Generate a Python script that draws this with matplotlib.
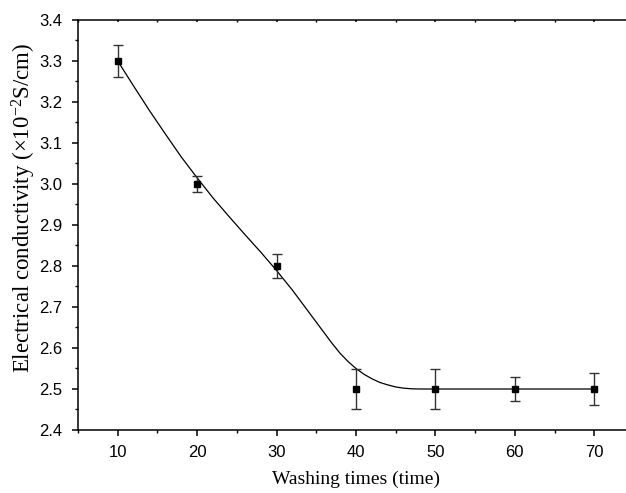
import matplotlib.pyplot as plt
from matplotlib.ticker import MultipleLocator

plt.rcParams['mathtext.fontset'] = 'custom'
plt.rcParams['mathtext.rm'] = 'Liberation Serif'
plt.rcParams['mathtext.it'] = 'Liberation Serif:italic'

# measured points
wash_times = [10, 20, 30, 40, 50, 60, 70]
conductivity = [3.30, 3.00, 2.80, 2.50, 2.50, 2.50, 2.50]
errors = [0.04, 0.02, 0.03, 0.05, 0.05, 0.03, 0.04]

# smoothed fit curve
curve_x = [10, 12, 14, 16, 18, 20, 22, 24, 26, 28, 30, 32, 34, 36, 37, 38, 39, 40,
           41, 42, 43, 44, 45, 46, 47, 48, 50, 60, 70]
curve_y = [3.300, 3.239, 3.179, 3.122, 3.066, 3.015, 2.966, 2.921, 2.877, 2.834, 2.789,
           2.741, 2.689, 2.637, 2.611, 2.587, 2.567, 2.550, 2.536, 2.525, 2.516, 2.510,
           2.505, 2.502, 2.5005, 2.500, 2.500, 2.500, 2.500]

fig = plt.figure(figsize=(6.26, 4.93), dpi=100)
ax = fig.add_axes([78 / 626, 63 / 493, 556 / 626, 410 / 493])

ax.plot(curve_x, curve_y, color='black', lw=0.9)
ax.errorbar(wash_times, conductivity, yerr=errors, fmt='s', color='black',
            ecolor='#333333', elinewidth=1.0, capsize=3.3, capthick=1.0,
            markersize=3.8, zorder=3)

ax.set_xlim(5, 75)
ax.set_ylim(2.4, 3.4)
ax.xaxis.set_major_locator(MultipleLocator(10))
ax.xaxis.set_minor_locator(MultipleLocator(5))
ax.yaxis.set_major_locator(MultipleLocator(0.1))
ax.yaxis.set_minor_locator(MultipleLocator(0.05))
ax.yaxis.set_major_formatter(plt.FuncFormatter(lambda v, p: f'{v:.1f}'))

for s in ax.spines.values():
    s.set_linewidth(1.1)

ax.tick_params(which='major', direction='out', length=4.5, width=1.1,
               labelsize=12, pad=6.5)
ax.tick_params(which='minor', direction='out', length=2.5, width=1.0)
for t in ax.get_xticklabels() + ax.get_yticklabels():
    t.set_fontfamily('Liberation Sans')

# tiny inward marks on the top spine
ax.tick_params(which='both', top=True)
for tick in ax.xaxis.get_major_ticks() + ax.xaxis.get_minor_ticks():
    tick.tick2line.set_marker(3)
    tick.tick2line.set_markersize(1.5)

ax.set_xlabel('Washing times (time)', fontfamily='Liberation Serif', fontsize=14)
ax.set_ylabel('Electrical conductivity (×10$^{-2}$S/cm)',
              fontfamily='Liberation Serif', fontsize=16.5)
ax.xaxis.set_label_coords(0.5, -0.1)
ax.yaxis.set_label_coords(-0.072, 0.541)

fig.savefig('out.png', dpi=100)
